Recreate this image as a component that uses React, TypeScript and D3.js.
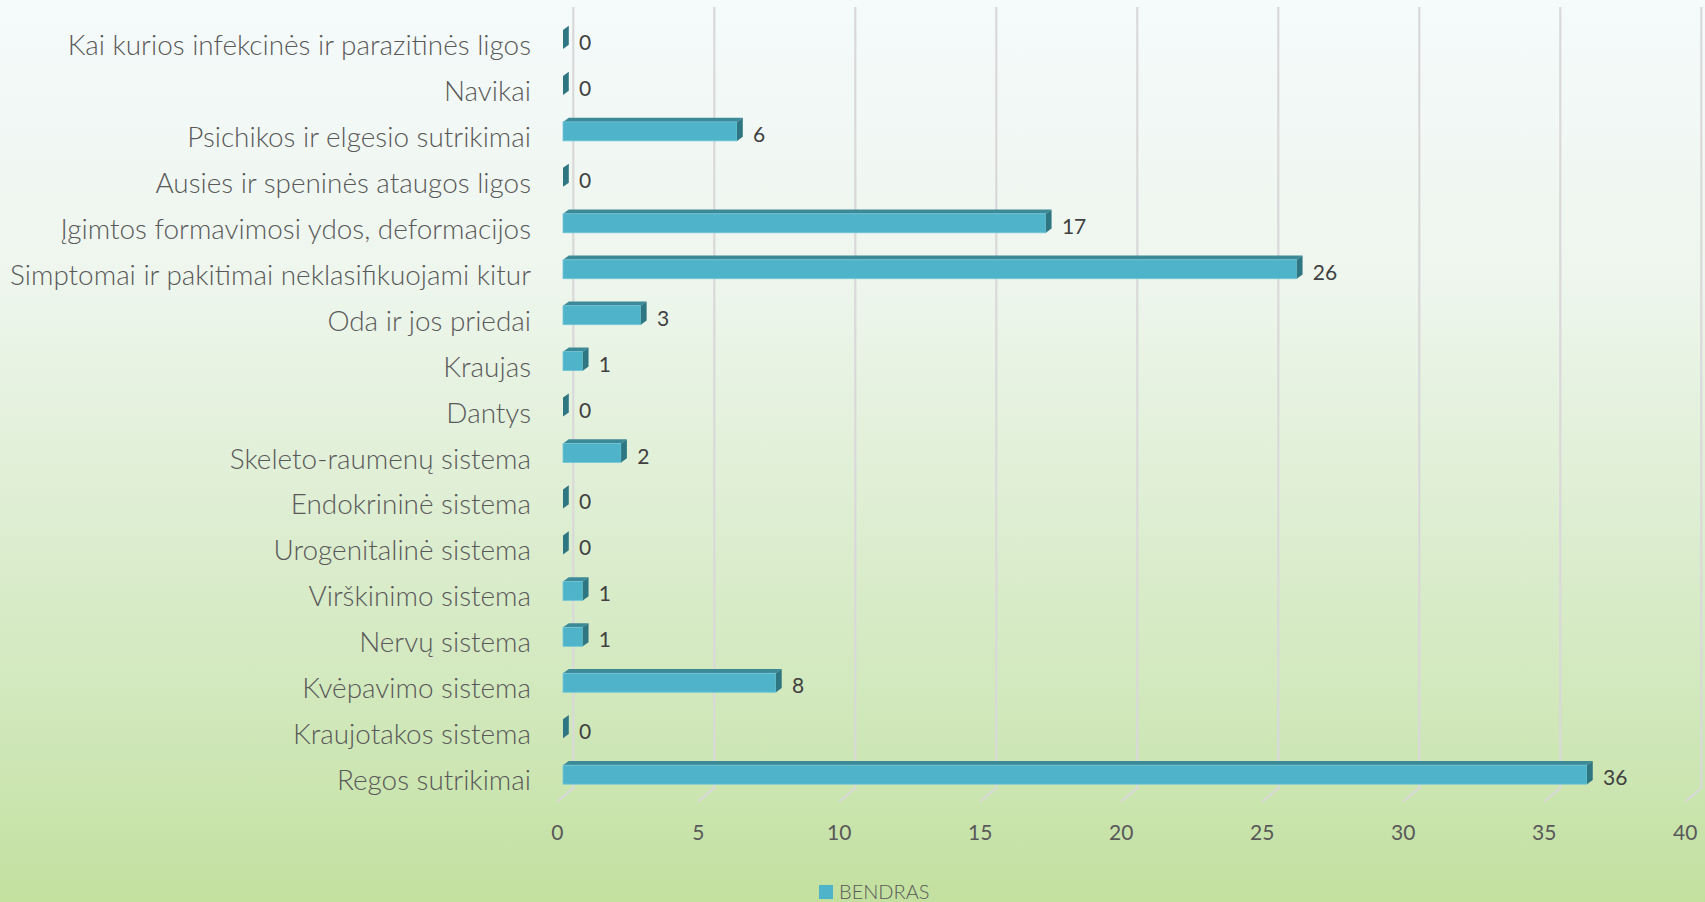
import React from "react";
import * as d3 from "d3";

const categories: string[] = [
  "Kai kurios infekcinės ir parazitinės ligos",
  "Navikai",
  "Psichikos ir elgesio sutrikimai",
  "Ausies ir speninės ataugos ligos",
  "Įgimtos formavimosi ydos, deformacijos",
  "Simptomai ir pakitimai neklasifikuojami kitur",
  "Oda ir jos priedai",
  "Kraujas",
  "Dantys",
  "Skeleto-raumenų sistema",
  "Endokrininė sistema",
  "Urogenitalinė sistema",
  "Virškinimo sistema",
  "Nervų sistema",
  "Kvėpavimo sistema",
  "Kraujotakos sistema",
  "Regos sutrikimai",
];

const values: number[] = [0, 0, 6.17, 0, 17.12, 26.02, 2.76, 0.7, 0, 2.06, 0, 0, 0.7, 0.7, 7.55, 0, 36.31];

const ticks: number[] = [0, 5, 10, 15, 20, 25, 30, 35, 40];
const seriesName = "BENDRAS";

const W = 1705;
const H = 902;

export default function App() {
  // front floor x scale
  const x = d3.scaleLinear().domain([0, 40]).range([557.3, 557.3 + 40 * 28.2]);
  const y = d3.scaleBand<string>().domain(categories).range([16.5, 16.5 + 17 * 45.95]).padding(0);

  const depthDX = 16;
  const depthDY = 13.5;
  const barFrontDX = 5.7; // bar front face offset from front floor
  const barDX = 5.8; // bar depth
  const barDY = 4.2;
  const barH = 19;
  const wallTop = 7;
  const floorY = 788;

  const fmt = (v: number) => String(Math.round(v));

  const front = "#4fb4ca";
  const topC = "#3c8997";
  const sideC = "#2f7683";

  return (
    <svg
      width={W}
      height={H}
      style={{ position: "fixed", left: 0, top: 0, display: "block" }}
      fontFamily="Lato, 'Open Sans', sans-serif"
    >
      <defs>
        <linearGradient id="bg" x1="0" y1="0" x2="0" y2="1">
          <stop offset="0" stopColor="#f5fafb" />
          <stop offset="0.3" stopColor="#eef6ee" />
          <stop offset="0.6" stopColor="#dcedcf" />
          <stop offset="0.85" stopColor="#cde6b4" />
          <stop offset="1" stopColor="#c3e09f" />
        </linearGradient>
      </defs>
      <rect x={0} y={0} width={W} height={H} fill="url(#bg)" />

      {/* gridlines on back wall and floor */}
      {ticks.map((t) => {
        const xb = x(t) + depthDX;
        return (
          <g key={"g" + t}>
            <polyline
              points={`${xb},${wallTop} ${xb},${floorY} ${x(t)},${floorY + depthDY}`}
              fill="none"
              stroke="#d9d9d9"
              strokeWidth={2.2}
            />
            <text
              x={x(t)}
              y={840}
              textAnchor="middle"
              fontSize={21}
              fill="#595959"
            >
              {t}
            </text>
          </g>
        );
      })}

      {/* bars */}
      {categories.map((c, i) => {
        const v = values[i];
        const yc = (y(c) as number) + y.bandwidth() / 2;
        const y0 = yc - barH / 2;
        const y1 = yc + barH / 2;
        const xs = x(0) + barFrontDX;
        const xe = x(v) + barFrontDX;
        return (
          <g key={"b" + i}>
            {v > 0 && (
              <>
                <polygon
                  points={`${xs},${y0} ${xs + barDX},${y0 - barDY} ${xe + barDX},${y0 - barDY} ${xe},${y0}`}
                  fill={topC}
                />
                <rect x={xs} y={y0} width={xe - xs} height={barH} fill={front} stroke="#72c6d6" strokeWidth={0.8} />
              </>
            )}
            <polygon
              points={`${xe},${y0} ${xe + barDX},${y0 - barDY} ${xe + barDX},${y1 - barDY} ${xe},${y1}`}
              fill={sideC}
            />
            <text x={xe + barDX + 10.3} y={yc + 10.5} fontSize={21} fill="#404040">
              {fmt(v)}
            </text>
            <text x={531} y={yc + 15.5} textAnchor="end" fontSize={27.9} fontWeight={300} fill="#595959">
              {c}
            </text>
          </g>
        );
      })}

      {/* legend */}
      <rect x={819} y={885} width={14} height={14} fill={front} />
      <text x={839} y={898.5} fontSize={20} fontWeight={300} fill="#595959">
        {seriesName}
      </text>
    </svg>
  );
}
